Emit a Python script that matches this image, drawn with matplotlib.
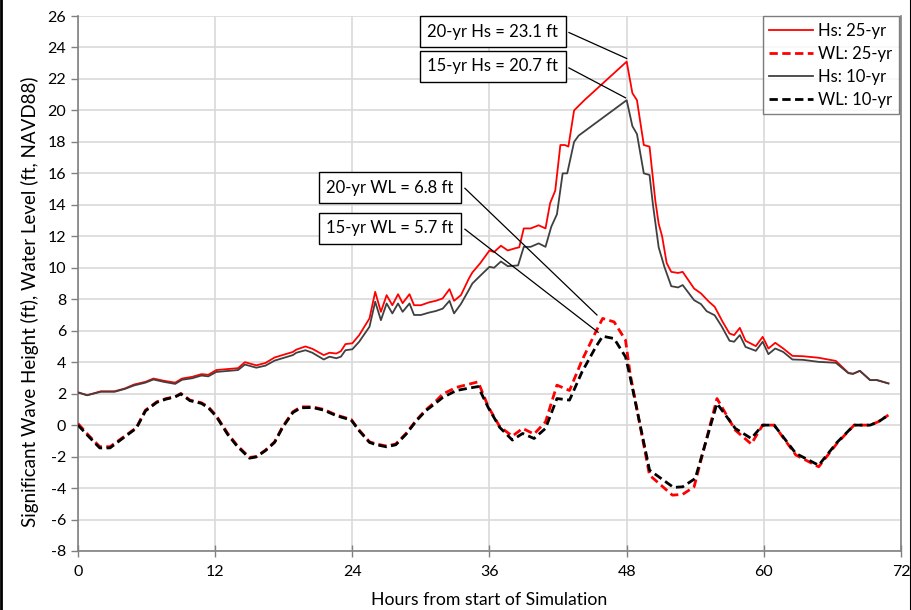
import matplotlib
matplotlib.use("Agg")
import matplotlib.pyplot as plt
from matplotlib.lines import Line2D

plt.rcParams['font.family'] = ['Lato', 'DejaVu Sans']
plt.rcParams['axes.unicode_minus'] = False

# ---------------- data ----------------
hs25_t = [0, 0.8, 2.0, 3.2, 4.1, 4.9, 5.9, 6.6, 7.5, 8.5, 9.1, 10.0, 10.8, 11.4, 12.1, 14.0, 14.6,
          15.6, 16.4, 17.2, 18.8, 19.1, 19.9, 20.5, 21.5, 22.0, 22.6, 23.0, 23.4, 24.0, 24.6, 25.5,
          26.0, 26.5, 27.0, 27.5, 28.0, 28.4, 29.0, 29.4, 30.0, 30.7, 31.3, 31.9, 32.5, 32.9, 33.5,
          34.2, 34.5, 35.2, 36.0, 36.4, 37.0, 37.6, 38.3, 38.6, 39.0, 39.6, 40.3, 40.9, 41.3, 41.75,
          42.2, 42.6, 42.9, 43.4, 44.3, 48.0, 48.5, 48.9, 49.5, 50.0, 50.5, 50.8, 51.1, 51.5, 51.9,
          52.5, 52.9, 53.9, 54.5, 55.2, 55.7, 56.4, 57.0, 57.4, 57.9, 58.4, 59.3, 59.9, 60.4, 61.0,
          61.7, 62.5, 63.4, 64.8, 66.3, 67.4, 67.8, 68.4, 69.3, 69.9, 70.9]
hs25_v = [2.08, 1.9, 2.15, 2.15, 2.33, 2.58, 2.75, 2.96, 2.82, 2.7, 2.96, 3.07, 3.24, 3.2, 3.5, 3.62, 4.0,
          3.8, 3.95, 4.3, 4.65, 4.8, 5.0, 4.85, 4.45, 4.6, 4.55, 4.7, 5.15, 5.2, 5.72, 6.78,
          8.47, 7.2, 8.26, 7.62, 8.32, 7.75, 8.32, 7.62, 7.62, 7.8, 7.9, 8.05, 8.64, 7.9, 8.26,
          9.32, 9.7, 10.3, 11.1, 11.0, 11.4, 11.1, 11.25, 11.3, 12.5, 12.5, 12.7, 12.5, 14.1, 14.9,
          17.8, 17.8, 17.7, 20.0, 20.65, 23.1, 21.1, 20.65, 17.8, 17.7, 14.3, 12.8, 12.0, 10.3, 9.74,
          9.67, 9.74, 8.68, 8.37, 7.84, 7.52, 6.56, 5.82, 5.72, 6.18, 5.36, 5.02, 5.61, 4.87, 5.23,
          4.87, 4.4, 4.38, 4.28, 4.08, 3.32, 3.26, 3.45, 2.86, 2.86, 2.65]

wl25_t = [0, 0.9, 1.9, 2.8, 3.8, 5.1, 5.9, 6.9, 7.7, 8.5, 9.0, 9.8, 10.8, 11.4, 12.1, 13.1, 13.9,
          15.0, 15.6, 16.4, 17.2, 17.9, 18.8, 19.5, 20.5, 21.5, 22.6, 23.9, 24.6, 25.5, 26.1, 27.0,
          27.8, 28.7, 29.6, 30.4, 31.3, 31.9, 33.1, 34.2, 35.0, 35.9, 36.9, 38.0, 38.9, 39.9, 40.9,
          41.9, 43.0, 44.1, 45.3, 45.9, 46.9, 47.9, 48.3, 50.0, 52.0, 52.9, 53.9, 55.9, 57.5, 58.9,
          59.9, 60.9, 62.8, 64.8, 66.4, 67.9, 69.3, 70.0, 70.9]
wl25_v = [0.1, -0.63, -1.37, -1.37, -0.85, -0.17, 0.95, 1.48, 1.69, 1.8, 2.01, 1.59, 1.42, 1.16, 0.6, -0.53, -1.27,
          -2.05, -2.0, -1.59, -1.06, -0.1, 0.85, 1.16, 1.16, 1.0, 0.64, 0.36, -0.32, -1.06, -1.2, -1.33,
          -1.2, -0.53, 0.32, 0.95, 1.52, 1.97, 2.4, 2.6, 2.75, 1.16, -0.1, -0.7, -0.21, -0.57, 0.21,
          2.54, 2.2, 4.13, 5.93, 6.78, 6.56, 5.4, 3.28, -3.18, -4.45, -4.4, -3.92, 1.69, -0.32, -1.2,
          0.0, 0.0, -1.9, -2.65, -1.16, 0.0, 0.0, 0.21, 0.64]

hs10_t = [0, 0.8, 2.0, 3.2, 4.1, 4.9, 5.9, 6.6, 7.5, 8.5, 9.1, 10.0, 10.8, 11.4, 12.1, 14.0, 14.6,
          15.6, 16.4, 17.2, 18.8, 19.1, 19.9, 20.5, 21.5, 22.0, 22.6, 23.0, 23.4, 24.0, 24.6, 25.5,
          26.0, 26.5, 27.0, 27.5, 28.0, 28.4, 29.0, 29.4, 30.0, 30.7, 31.3, 31.9, 32.5, 32.9, 33.5,
          34.2, 34.5, 35.2, 36.0, 36.4, 37.0, 37.6, 38.5, 39.0, 39.6, 40.3, 40.9, 41.4, 41.9, 42.4,
          42.8, 43.4, 43.8, 48.0, 48.5, 48.9, 49.5, 50.0, 50.3, 50.8, 51.3, 51.9, 52.5, 52.9, 53.9,
          54.5, 55.0, 55.7, 56.3, 57.0, 57.4, 57.9, 58.4, 59.3, 59.9, 60.4, 61.0, 61.7, 62.5, 63.4,
          64.8, 66.3, 67.4, 67.8, 68.4, 69.3, 69.9, 70.9]
hs10_v = [2.08, 1.9, 2.12, 2.12, 2.3, 2.52, 2.7, 2.9, 2.75, 2.62, 2.88, 2.98, 3.15, 3.1, 3.38, 3.5, 3.85,
          3.65, 3.78, 4.1, 4.45, 4.6, 4.76, 4.6, 4.17, 4.35, 4.25, 4.35, 4.76, 4.82, 5.3, 6.25,
          7.84, 6.67, 7.73, 7.1, 7.73, 7.2, 7.73, 7.0, 7.0, 7.15, 7.25, 7.4, 7.9, 7.1, 7.7,
          8.6, 9.0, 9.5, 10.06, 10.0, 10.4, 10.1, 10.15, 11.33, 11.33, 11.55, 11.33, 12.6, 13.4, 16.0,
          16.0, 18.0, 18.4, 20.65, 19.0, 18.5, 16.0, 15.9, 14.0, 11.3, 10.06, 8.83, 8.75, 8.9, 7.94,
          7.69, 7.24, 6.98, 6.29, 5.36, 5.3, 5.72, 4.97, 4.72, 5.3, 4.51, 4.87, 4.65, 4.17, 4.15,
          4.02, 3.96, 3.3, 3.26, 3.45, 2.86, 2.86, 2.65]

wl10_t = [0, 0.9, 1.9, 2.8, 3.8, 5.1, 5.9, 6.9, 7.7, 8.5, 9.0, 9.8, 10.8, 11.4, 12.1, 13.1, 13.9,
          15.0, 15.6, 16.4, 17.2, 17.9, 18.8, 19.5, 20.5, 21.5, 22.6, 23.9, 24.6, 25.5, 26.1, 27.0,
          27.8, 28.7, 29.6, 30.4, 31.3, 31.9, 33.1, 34.2, 35.0, 35.9, 36.9, 38.0, 38.9, 39.9, 40.9,
          41.9, 43.0, 44.1, 45.3, 45.9, 46.9, 47.9, 48.3, 50.0, 52.1, 52.9, 54.0, 55.9, 57.5, 58.9,
          59.9, 60.9, 62.8, 64.8, 66.4, 67.9, 69.3, 70.0, 70.9]
wl10_v = [0.0, -0.7, -1.45, -1.45, -0.9, -0.2, 0.9, 1.45, 1.65, 1.8, 1.98, 1.55, 1.38, 1.1, 0.55, -0.6, -1.32,
          -2.1, -2.02, -1.62, -1.1, -0.15, 0.8, 1.1, 1.12, 0.95, 0.6, 0.32, -0.36, -1.1, -1.25, -1.38,
          -1.25, -0.58, 0.27, 0.9, 1.4, 1.75, 2.2, 2.35, 2.45, 1.1, -0.15, -0.95, -0.53, -0.85, -0.21,
          1.69, 1.59, 3.39, 4.97, 5.65, 5.5, 4.34, 3.07, -2.86, -3.96, -3.92, -3.39, 1.38, -0.21, -0.85,
          0.0, 0.0, -1.8, -2.55, -1.1, 0.0, 0.0, 0.2, 0.64]

series_labels = ["Hs: 25-yr", "WL: 25-yr", "Hs: 10-yr", "WL: 10-yr"]

x_ticks = [0, 12, 24, 36, 48, 60, 72]
y_ticks = list(range(-8, 27, 2))

ann_text = ["20-yr Hs = 23.1 ft", "15-yr Hs = 20.7 ft", "20-yr WL = 6.8 ft", "15-yr WL = 5.7 ft"]
ann_text_pos = [(36.3, 25.0), (36.3, 22.8), (27.3, 15.1), (27.3, 12.5)]
ann_start = [(42.95, 24.95), (42.95, 22.7), (33.85, 15.05), (33.85, 12.45)]
ann_target = [(48.0, 23.3), (47.9, 20.8), (45.4, 7.0), (45.5, 5.9)]

# ---------------- figure ----------------
W, H = 912, 610
fig = plt.figure(figsize=(W / 100, H / 100), dpi=100)
ax = fig.add_axes([78 / W, 1 - 551 / H, (901 - 78) / W, (551 - 16) / H])

grid_c = "#d9d9d9"
axis_c = "#808080"

ax.plot(hs25_t, hs25_v, color="#ff0000", lw=1.3, label=series_labels[0], zorder=4)
ax.plot(wl25_t, wl25_v, color="#ff0000", lw=2.0, ls=(0, (3, 1.6)), label=series_labels[1], zorder=3)
ax.plot(hs10_t, hs10_v, color="#404040", lw=1.3, label=series_labels[2], zorder=4)
ax.plot(wl10_t, wl10_v, color="#000000", lw=2.0, ls=(0, (3, 1.6)), label=series_labels[3], zorder=3)

ax.set_xlim(0, 72)
ax.set_ylim(-8, 26)
ax.set_xticks(x_ticks)
ax.set_yticks(y_ticks)
ax.grid(True, color=grid_c, lw=1.2, zorder=0)
ax.set_axisbelow(True)

for s in ["left", "bottom", "right"]:
    ax.spines[s].set_color(axis_c)
    ax.spines[s].set_linewidth(1.2)
ax.spines["top"].set_visible(False)
ax.tick_params(axis="both", colors=axis_c, labelcolor="#000000", labelsize=11.5, length=5, width=1.0)
ax.tick_params(axis="x", direction="inout", length=8, pad=6)

fig.text(489.5 / W, 1 - 600 / H, "Hours from start of Simulation", ha="center", va="center",
         fontsize=12.7)
fig.text(30 / W, 1 - 302 / H, "Significant Wave Height (ft), Water Level (ft, NAVD88)",
         ha="center", va="center", rotation=90, fontsize=13.5)

for txt, tp, st, tg in zip(ann_text, ann_text_pos, ann_start, ann_target):
    ax.plot([st[0], tg[0]], [st[1], tg[1]], color="#000000", lw=0.9, zorder=5)
    ax.text(tp[0], tp[1], txt, ha="center", va="center", fontsize=12, zorder=6,
            bbox=dict(boxstyle="square,pad=0.45", fc="white", ec="#000000", lw=1.0))

leg = ax.legend(loc="upper right", fontsize=12, frameon=True, fancybox=False,
                edgecolor="#606060", handlelength=2.6, handletextpad=0.3,
                borderaxespad=0.0, labelspacing=0.42, borderpad=0.4,
                bbox_to_anchor=(0.997, 1.0))
leg.get_frame().set_linewidth(1.0)

fig.add_artist(Line2D([0.001, 0.001], [0, 1], color="black", lw=2, transform=fig.transFigure))
fig.add_artist(Line2D([0.9992, 0.9992], [0, 1], color="black", lw=1.5, transform=fig.transFigure))

fig.savefig("out.png", dpi=100)
